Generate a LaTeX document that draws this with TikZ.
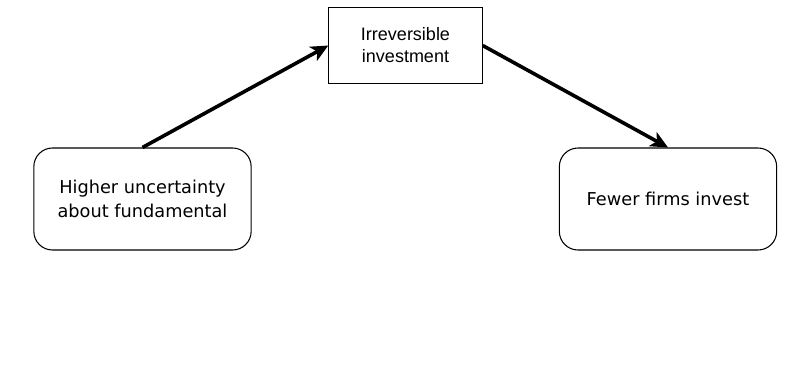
\documentclass[tikz,border=0pt]{standalone}
\usepackage{fontspec}
\setmainfont{DejaVu Sans}
\newfontfamily\arialfont{Liberation Sans}
\usetikzlibrary{arrows.meta}

\tikzset{
    causebox/.style={draw, rounded corners=14pt, minimum width=163pt, minimum height=76.5pt, align=center, font=\fontsize{13.3}{18}\selectfont, line width=0.8pt},
    midbox/.style={draw, minimum width=115pt, minimum height=57pt, align=center, font=\arialfont\fontsize{13.5}{16.5}\selectfont, line width=0.8pt},
    link/.style={line width=2.7pt, -{Stealth[length=13pt, width=12pt, inset=3.5pt]}}
}

\begin{document}
\begin{tikzpicture}[x=0.75pt, y=-0.75pt]
            \useasboundingbox (0, 0) rectangle (798, 390);

            \node[causebox] (uncertainty) at (142.5, 199) {Higher uncertainty\\about fundamental};

            \node[midbox] (irreversible) at (405.5, 45.5) {Irreversible\\investment};

            \node[causebox] (fewer) at (668, 199) {Fewer firms invest};

            \draw[link] (uncertainty.north) -- (irreversible.west);

            \draw[link] (irreversible.east) -- (fewer.north);
        \end{tikzpicture}
\end{document}
